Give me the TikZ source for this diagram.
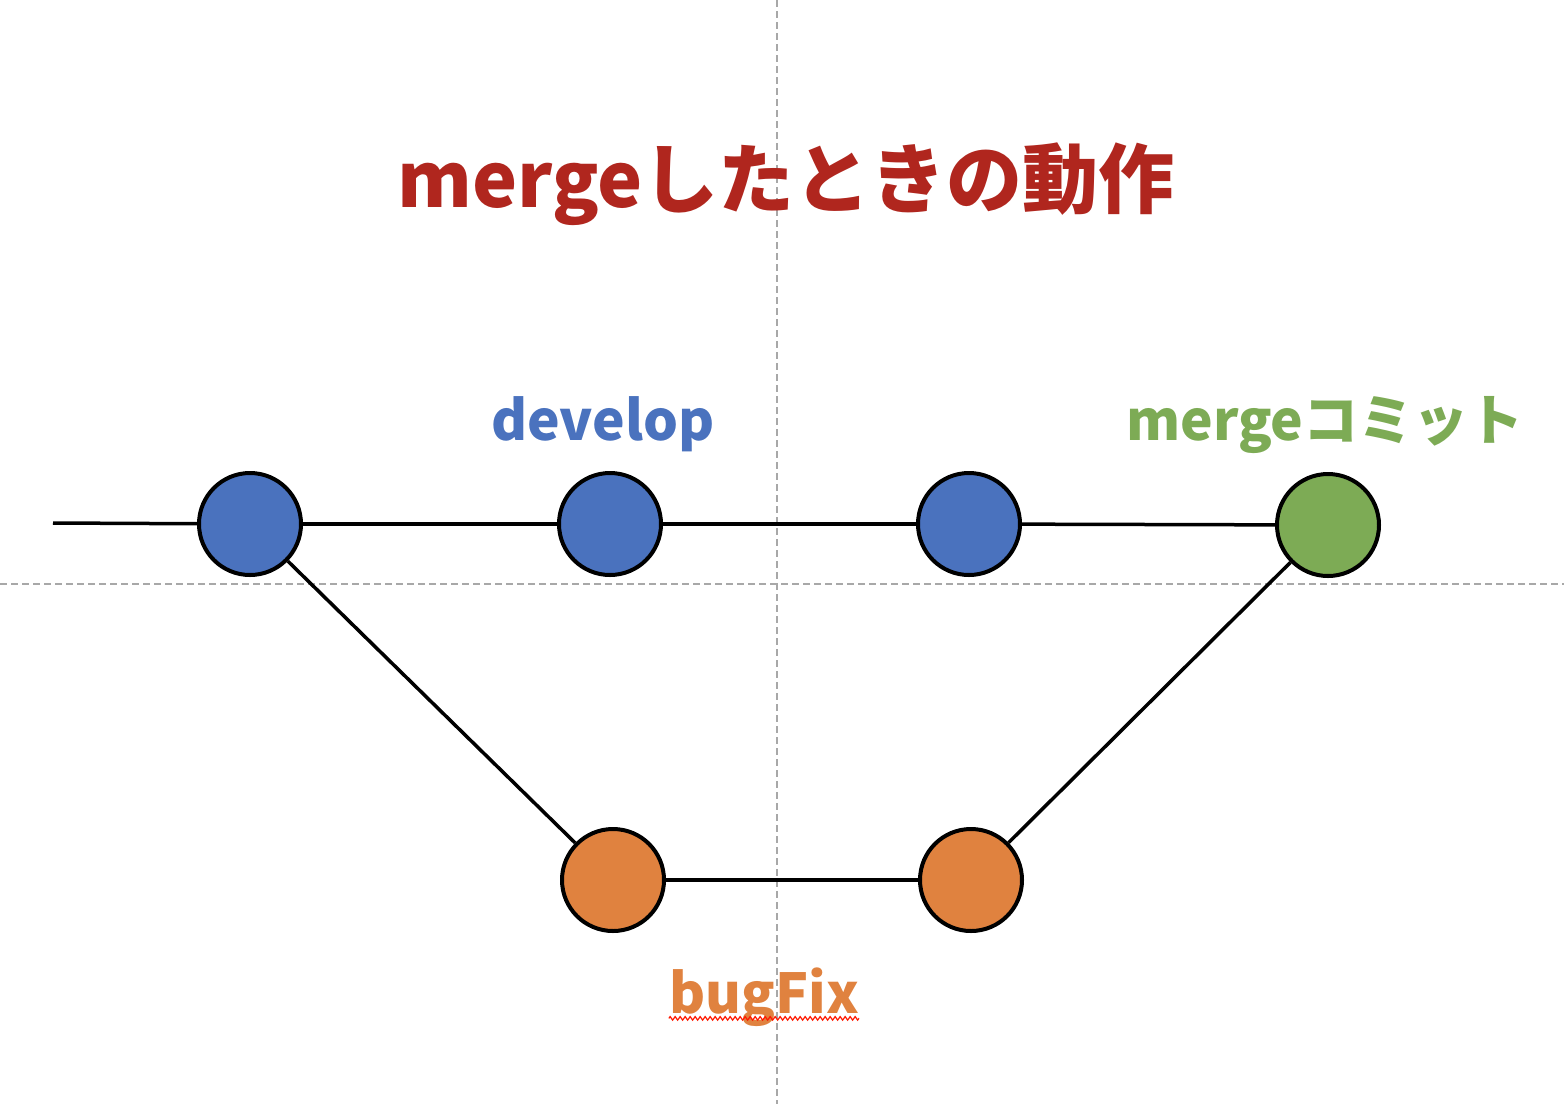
\documentclass[tikz,border=0pt]{standalone}
\usepackage{fontspec}
\newfontfamily\jp{Noto Sans CJK JP}
\usetikzlibrary{decorations.pathmorphing}
\definecolor{cblue}{HTML}{4A72BE}
\definecolor{corange}{HTML}{E0823F}
\definecolor{cgreen}{HTML}{7DAB55}
\definecolor{ctitle}{HTML}{B0261E}
\definecolor{cguide}{HTML}{A8A8A8}
\tikzset{
  commit/.style={circle, draw=black, line width=4pt, minimum size=102pt, inner sep=0pt},
  edge/.style={draw=black, line width=3.5pt},
  guide/.style={draw=cguide, line width=1.5pt, dash pattern=on 7pt off 4pt},
  lbl/.style={font=\jp\bfseries, inner sep=0pt, anchor=base}
}
\begin{document}
\begin{tikzpicture}[x=1pt,y=-1pt]
\useasboundingbox (0,0) rectangle (1564,1104);
% guides
\draw[guide] (777,0) -- (777,1104);
\draw[guide] (0,584) -- (1564,584);
% commits
\coordinate (start) at (53,523);
\path (250,524) coordinate (pd1) (610,524) coordinate (pd2) (969,524) coordinate (pd3)
      (1328,525) coordinate (pm) (613,880) coordinate (pb1) (971,880) coordinate (pb2);
\node[commit, fill=cblue] (d1) at (pd1) {};
\node[commit, fill=cblue] (d2) at (pd2) {};
\node[commit, fill=cblue] (d3) at (pd3) {};
\node[commit, fill=cgreen] (m) at (pm) {};
\node[commit, fill=corange] (b1) at (pb1) {};
\node[commit, fill=corange] (b2) at (pb2) {};
% edges
\draw[edge] (start) -- (d1);
\draw[edge] (d1) -- (d2);
\draw[edge] (d2) -- (d3);
\draw[edge] (d3) -- (m);
\draw[edge] (d1) -- (b1);
\draw[edge] (b1) -- (b2);
\draw[edge] (b2) -- (m);
% labels
\node[lbl, text=ctitle, font=\jp\bfseries\fontsize{76}{80}\selectfont] (title) at (786,207) {mergeしたときの動作};
\node[lbl, text=cblue, font=\jp\bfseries\fontsize{55}{60}\selectfont] (ldev) at (603,440) {develop};
\node[lbl, text=cgreen, font=\jp\bfseries\fontsize{55}{60}\selectfont] (lmerge) at (1325,440) {mergeコミット};
\node[lbl, text=corange, font=\jp\bfseries\fontsize{55}{60}\selectfont] (lbug) at (764,1013) {bugFix};
\draw[red!80!orange, line width=1.2pt, decorate, decoration={zigzag, amplitude=1.8pt, segment length=5pt}]
  ([yshift=8pt]lbug.south west) -- ([yshift=8pt]lbug.south east);
\end{tikzpicture}
\end{document}
